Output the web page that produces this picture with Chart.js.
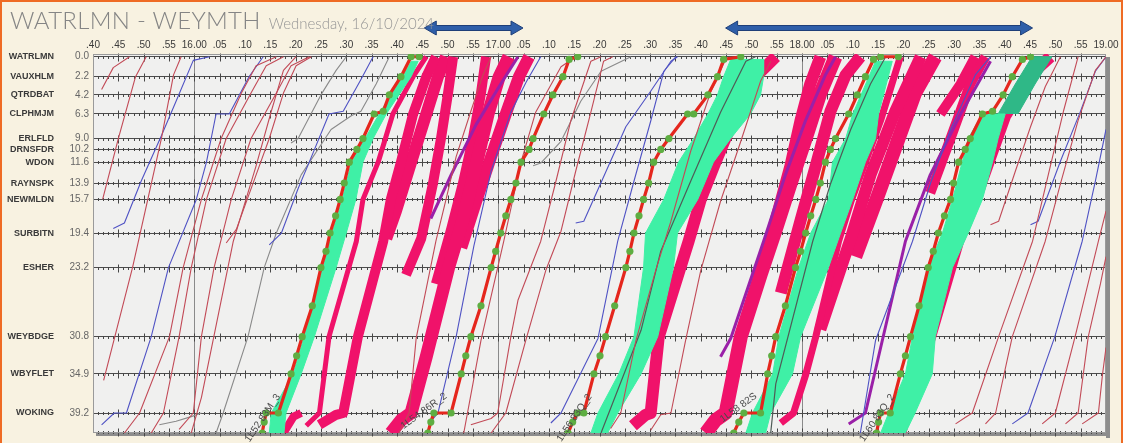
<!DOCTYPE html>
<html>
<head>
<meta charset="utf-8">
<script src="https://cdn.jsdelivr.net/npm/chart.js@4.4.1/dist/chart.umd.min.js"></script>
<style>
  html, body { margin: 0; padding: 0; background: #f8f2e1; }
  #wrap { position: relative; width: 1123px; height: 443px; overflow: hidden; background: #f8f2e1; }
  #frame { position: absolute; left: 0; top: 0; width: 1123px; height: 443px; box-sizing: border-box;
           border-top: 2px solid #ef6b24; border-left: 2px solid #ef6b24; border-right: 2px solid #ef6b24; pointer-events: none; }
  #title { position: absolute; left: 10px; top: 5px; font-family: Lato, "Open Sans", sans-serif; font-weight: 300; color: #858585; white-space: nowrap; }
  #title .big { font-size: 24px; letter-spacing: 0.3px; }
  #title .small { font-size: 15px; margin-left: 8px; color: #969696; }
  #chartBox { position: absolute; left: 0; top: 0; width: 1123px; height: 443px; }
</style>
</head>
<body>
<div id="wrap">
  <div id="chartBox"><canvas id="grafico"></canvas></div>
  <div id="title"><span class="big">WATRLMN - WEYMTH</span><span class="small">Wednesday, 16/10/2024</span></div>
  <div id="frame"></div>
</div>
<script>
// stations (miles from Waterloo)
const stationNames = ['WATRLMN', 'VAUXHLM', 'QTRDBAT', 'CLPHMJM', 'ERLFLD', 'DRNSFDR', 'WDON',
                      'RAYNSPK', 'NEWMLDN', 'SURBITN', 'ESHER', 'WEYBDGE', 'WBYFLET', 'WOKING'];
const stationMiles = [0.0, 2.2, 4.2, 6.3, 9.0, 10.2, 11.6, 13.9, 15.7, 19.4, 23.2, 30.8, 34.9, 39.2];

// time axis: minutes after 15:00
const timeMin = 40;   // 15.40
const timeMax = 240;  // 19.00

// highlighted trains (red with green timing dots) : [minute, miles]
const trainIds = ['1L52 83M_3', '1L54 86R_2', '1L56 83Q_2', '1L58 82S', '1L60 83Q_2'];
const trainLabelAngles = [-56, -36, -56, -36, -56];
const trainPaths = [
  [[73.4,41.4],[73.8,40.2],[74.2,39.2],[76.6,39.2],[79.1,34.9],[80.2,32.9],[81.3,30.8],[83.3,27.4],[85.0,23.2],[86.0,21.4],[86.8,19.4],[87.9,17.5],[88.8,15.7],[89.6,13.9],[90.6,11.6],[92.1,10.2],[93.3,9.0],[95.5,6.3],[97.3,6.0],[98.5,4.2],[100.8,2.2],[102.8,0],[104.4,0]],
  [[106.1,41.4],[106.7,40.2],[107.3,39.2],[110.7,39.2],[112.7,34.9],[113.6,32.9],[114.6,30.8],[116.6,27.4],[118.6,23.2],[119.5,21.4],[120.5,19.4],[121.5,17.5],[122.5,15.7],[123.5,13.9],[124.5,11.6],[126.1,10.2],[126.9,9.0],[129.0,6.3],[130.8,4.2],[132.8,2.2],[134.0,0.3],[135.7,0]],
  [[133.8,41.4],[134.7,40.2],[135.7,39.2],[136.9,39.2],[138.9,34.9],[140.1,32.9],[141.2,30.8],[143.0,27.4],[145.2,23.2],[146.0,21.4],[146.8,19.4],[147.8,17.5],[148.7,15.7],[149.7,13.9],[150.7,11.6],[152.1,10.2],[153.7,9.0],[157.4,6.3],[158.6,6.3],[161.4,4.2],[163.3,2.2],[164.5,0.3],[167.9,0]],
  [[166.5,41.4],[167.5,40.2],[168.5,39.2],[171.8,39.2],[173.2,34.9],[174.0,32.9],[174.8,30.8],[176.7,27.4],[178.7,23.2],[179.7,21.4],[180.7,19.4],[181.7,17.5],[182.7,15.7],[183.6,13.9],[184.6,11.6],[185.6,10.2],[186.6,9.0],[189.2,6.3],[190.9,4.2],[192.5,2.2],[194.1,0.3],[195.5,0],[199.0,0]],
  [[194.7,41.4],[195.1,40.2],[195.5,39.2],[197.4,39.2],[199.4,34.9],[200.4,32.9],[201.4,30.8],[203.1,27.4],[204.9,23.2],[205.9,21.4],[206.9,19.4],[208.1,17.5],[209.3,15.7],[209.9,13.9],[210.9,11.6],[212.2,10.2],[213.2,9.0],[215.6,6.3],[217.6,6.0],[219.7,4.2],[221.5,2.2],[223.5,0.3],[225.1,0]]
];

// ordinary paths
const redLines = [
  [[41.7,3.6],[44.0,1.2],[47.2,0]],
  [[41.9,15.7],[45.0,9],[48.4,2.2],[50.5,0]],
  [[42.1,35.6],[47.8,23.2],[53.5,9],[55.9,2],[57.4,0]],
  [[46.2,41.4],[49.2,39.2],[55.1,30.8],[57.8,23.2],[61.4,15.7],[65.3,9],[69.3,4],[72.2,1],[76.2,0]],
  [[51.5,41.4],[53.9,39.2],[57.0,30.8],[59.4,23.2],[62.4,15.7],[66.3,9],[71.2,4],[74.2,1],[77.6,0]],
  [[57.0,41.0],[59.8,39.2],[61.4,30.8],[63.9,23.2],[67.3,15.7],[71.2,9],[76.2,4],[79.1,1],[82.7,0]],
  [[66.3,20.5],[68.3,19.0],[72.2,13],[74.8,9],[77.6,4],[80.1,1],[83.1,0]],
  [[59.4,41.4],[61.4,37.5],[67.7,20.3],[72.2,12],[75.2,6],[77.6,1.5],[80.1,0]],
  [[100.4,41.4],[102.4,39.2],[103.8,31],[107.7,20.3],[109.7,15.7],[111.7,11],[114.6,6],[117.0,2],[118.6,0]],
  [[113.2,41.4],[116.6,31.2],[121.1,20.3],[124.5,11.6],[127.4,6.1],[132.4,1.1],[135.3,0]],
  [[114.6,40.5],[118.6,39.8],[119.9,39.2],[122.5,30.8],[123.9,26.8],[128.4,20.3],[131.4,13.7],[134.3,7.1],[138.3,0.5],[140.3,0]],
  [[118.6,41.4],[121.5,39.2],[125.5,31.1],[129.4,23.5],[132.4,19.2],[135.3,12.6],[138.3,6.1],[140.8,0.5],[142.6,0]],
  [[142.2,40.9],[144.2,39.2],[147.2,31.2],[151.1,23.5],[154.1,18.1],[158.0,10.4],[162.0,3.8],[164.9,0.3]],
  [[150.1,41.1],[152.1,39.4],[154.1,39.2],[157.0,31.2],[160.0,23.5],[163.9,15.9],[167.9,9.3],[171.8,2.7],[173.8,0.5]],
  [[210.3,40.4],[212.2,39.7],[213.6,39.2],[218.8,30.8],[225.5,20.3],[228.6,13],[231.6,6],[234.5,0]],
  [[217.2,18.5],[218.8,18.1],[222.1,12.6],[225.1,7.7],[228.0,3.3],[231.0,0]],
  [[216.2,40.4],[218.2,39.2],[221.5,30.8],[228.0,20.3],[231.0,14],[234.5,7],[237.9,1.5],[240,0]],
  [[227.4,40.4],[230.0,39.2],[233.9,30.8],[238.5,20.3],[240.0,17]],
  [[232.0,40.4],[234.5,39.2],[236.5,30.8],[238.9,25],[240.0,22]],
  [[235.3,40.4],[238.5,39.2],[239.3,35],[240.0,32]]
];
const blueLines = [
  [[41.7,40.5],[44.2,39.2],[46.6,39.2],[51.5,30.8],[54.9,23.2],[60.4,15.7],[62.4,11.6],[64.3,6.3],[66.9,6.3],[70.8,2.2],[73.6,0]],
  [[44.0,18.9],[46.2,18.3],[49.5,13.7],[53.5,8.7],[56.4,4.9],[59.8,0.4],[63.0,0]],
  [[74.8,20.7],[77.2,19.4],[80.5,14.5],[82.7,11.6],[86.6,6.3],[89.4,6.0],[92.9,2.5],[95.3,0]],
  [[106.3,40.4],[108.1,39.2],[111.7,30.8],[115.2,20.8],[118.6,12.6],[122.5,6.1],[125.5,2.8],[128.4,0]],
  [[130.4,40.3],[132.4,39.2],[139.7,31.0],[143.6,20.3],[146.8,13.7],[150.1,7.1],[152.7,1.6],[155.1,0]],
  [[135.3,18.3],[136.9,18.1],[141.3,12.6],[145.2,7.7],[150.1,3.8],[154.1,0.5],[155.4,0]],
  [[191.5,41.4],[194.5,31.2],[201.8,20.3],[205.3,14],[209.3,8],[214.2,2],[217.2,0]],
  [[221.5,40.4],[224.6,39.2],[229.9,30.8],[235.3,20.3],[237.9,13.7],[240.0,8]],
  [[225.1,18.5],[226.6,18.1],[231.0,11.5],[234.9,6.1],[237.9,1.6],[240.0,0]]
];
const greyLines = [
  [[53.1,40.5],[56.4,40.1],[59.4,39.6],[61.4,39.2]],
  [[64.3,41.4],[65.7,39.2],[70.6,30.8],[73.8,23.2],[76.2,19.4],[81.1,13],[87.0,8],[91.0,6.5],[92.9,6.0],[95.9,3],[98.5,0]],
  [[79.1,9.5],[80.5,9.0],[85.0,4.2],[88.0,1.5],[90.0,0]],
  [[126.9,12.0],[128.4,11.7],[132.4,9.3],[136.3,4.9],[140.3,1.6],[146.2,0]]
];
const darkLines = [
  [[140.3,41.4],[148.2,30.1],[152.1,21.4],[158.0,13.7],[163.9,6.1],[168.9,0.5],[170.8,0]],
  [[173.8,41.4],[174.8,36],[182.1,20.3],[185.6,14],[189.6,8],[193.5,3],[196.5,0]]
];

// delay bands (pink) and their drawn widths
const pinkPaths = [
  [[82.1,40.6],[84.7,39.2],[86.6,30.8],[92.0,20.3],[93.3,15.7],[96.3,11.6],[99.2,6.3],[103.2,2.2],[105.8,0]],
  [[84.7,40.5],[88.0,39.4],[89.4,39.2],[92.3,30.8],[97.3,20.3],[98.8,15.7],[100.8,11.6],[103.2,6.3],[105.8,2.2],[107.7,0]],
  [[98.8,41.4],[100.8,40],[102.8,39.2],[105.8,33],[110.3,23],[113.0,18],[115.6,12],[118.0,6.3],[120.2,2.2],[122.1,0]],
  [[101.8,24],[104.8,20],[107.1,14],[108.7,9],[110.1,4],[111.1,0]],
  [[97.9,20],[99.8,17],[102.8,11.6],[105.8,6.3],[108.1,2.2],[109.7,0]],
  [[112.7,21],[115.6,16],[118.6,11],[121.5,6.3],[124.1,2.2],[126.1,0]],
  [[107.7,25],[110.7,19],[113.0,14],[115.0,9],[116.6,4],[117.6,0]],
  [[77.6,41.4],[79.6,39.6],[81.1,39.2]],
  [[146.6,40.6],[149.1,39.4],[150.1,39.2],[151.7,30.8],[157.6,20.3],[160.0,15.7],[162.9,11.6],[166.9,6.3],[170.8,2.2],[174.8,0]],
  [[161.0,41.4],[162.9,40],[164.9,39.2],[167.9,30.8],[171.8,24],[174.8,19],[177.7,14],[180.7,9],[183.6,4],[186.6,0]],
  [[175.8,40.3],[178.3,39.2],[180.7,35],[182.7,30.8],[187.2,20.3],[189.6,16],[195.5,7],[199.4,0]],
  [[183.6,30],[189.6,20],[193.5,13],[198.4,6],[203.4,0]],
  [[190.5,22],[194.5,16],[198.4,10],[202.3,4],[206.3,0]],
  [[199.4,41.4],[200.4,39.2],[205.3,30.8],[210.8,20.3],[214.2,15.7],[217.2,11],[220.1,6.5],[225.1,2],[229.0,0]],
  [[205.3,15],[209.3,9],[213.2,3],[216.2,0]],
  [[175.8,26],[179.7,18],[182.7,12],[185.6,6],[188.6,2],[191.5,0]],
  [[173.8,20],[177.7,12],[179.7,7],[181.6,3],[183.6,0]],
  [[207.3,6.3],[211.3,3],[214.2,0]]
];
const pinkWidths = [5, 10, 13, 10, 12, 12, 10, 8, 12, 14, 7, 12, 14, 12, 10, 12, 12, 10];

const purplePaths = [
  [[106.7,17.8],[110.7,13],[115.6,7.5],[120.5,3],[123.9,0]],
  [[189.2,40.4],[192.5,39.2],[200.4,20.3],[205.3,13],[211.3,6.3],[217.2,0.5]],
  [[163.9,33],[165.9,31],[172.4,20.3],[176.7,13],[180.7,7],[184.6,2],[186.6,0]]
];

// recovery bands (green): early edge and late edge at the listed miles
const greenMiles = [
  [41.4, 39.2, 34.9, 30.8, 23.2, 19.4, 15.7, 11.6, 9.0, 6.3, 4.2, 2.2, 0.5],
  [41.4, 39.2, 34.9, 30.8, 23.2, 19.4, 15.7, 11.6, 9.0, 6.3, 4.2, 2.2, 0.3],
  [41.4, 39.2, 34.9, 30.8, 23.2, 19.4, 15.7, 11.6, 9.0, 6.3, 0.5],
  [41.4, 39.2, 34.9, 30.8, 23.2, 19.4, 15.7, 11.6, 9.0, 6.3],
  [6.3, 3.0, 0]
];
const greenEarly = [
  [74.8, 75.2, 79.5, 81.7, 85.4, 87.2, 89.2, 91.0, 93.7, 96.5, 98.8, 101.2, 102.8],
  [138.3, 139.7, 143.8, 146.8, 148.7, 149.1, 152.7, 155.6, 158.6, 161.4, 163.3, 164.5, 165.9],
  [168.9, 170.2, 174.2, 175.4, 179.3, 181.7, 185.2, 186.0, 188.6, 190.0, 194.5],
  [195.5, 197.1, 200.4, 201.8, 204.9, 207.7, 209.7, 211.6, 212.8, 215.6],
  [218.7, 222.1, 225.4]
];
const greenLate = [
  [77.7, 78.1, 81.1, 83.7, 88.0, 90.0, 91.9, 93.3, 95.3, 97.9, 100.4, 102.8, 104.2],
  [141.6, 143.6, 148.2, 151.5, 154.6, 155.4, 159.4, 162.5, 165.9, 169.8, 171.8, 172.4, 172.4],
  [172.8, 173.8, 178.1, 179.7, 185.2, 187.6, 190.0, 192.5, 194.5, 195.1, 197.8],
  [200.4, 202.3, 205.7, 206.3, 209.7, 212.8, 215.6, 217.6, 218.7, 220.1],
  [222.6, 226.0, 229.3]
];
const greenColors = ['#3ff0a6', '#3ff0a6', '#3ff0a6', '#3ff0a6', '#2fb887'];

// blue annotation arrows above the graph [from, to] in minutes
const arrowSpans = [[105.4, 124.9], [164.9, 225.5]];

const pts = p => p.map(([x, y]) => ({x, y}));

const datasets = [];
trainPaths.forEach((p, i) => datasets.push({
  label: trainIds[i], data: pts(p), order: 0,
  borderColor: '#e5261d', borderWidth: 3.2,
  pointRadius: 3.6, pointBackgroundColor: '#5eae42', pointBorderWidth: 0
}));
const thin = (list, color, w) => list.forEach(p => datasets.push({
  data: pts(p), order: 1, borderColor: color, borderWidth: w, pointRadius: 0
}));
thin(redLines, '#c24a57', 1.1);
thin(blueLines, '#4f52c4', 1.1);
thin(greyLines, '#8a8a8a', 1.1);
thin(darkLines, '#4f5c57', 1.2);
purplePaths.forEach(p => datasets.push({
  data: pts(p), order: 2, borderColor: '#9a20a8', borderWidth: 3, pointRadius: 0
}));
greenMiles.forEach((miles, i) => {
  const early = miles.map((d, k) => ({x: greenEarly[i][k], y: d}));
  const late = miles.map((d, k) => ({x: greenLate[i][k], y: d})).reverse();
  datasets.push({
    data: early.concat(late), order: 3, fill: 'shape',
    backgroundColor: greenColors[i], borderColor: greenColors[i], borderWidth: 1, pointRadius: 0
  });
});
pinkPaths.forEach((p, i) => datasets.push({
  data: pts(p), order: 4, borderColor: '#f0126a', borderWidth: pinkWidths[i], pointRadius: 0
}));

const graphPlugin = {
  id: 'graphPlugin',
  beforeDraw(chart) {
    const {ctx, chartArea: a} = chart;
    ctx.save();
    ctx.fillStyle = '#8d8d8d';
    ctx.fillRect(a.right, a.top + 3, 4, a.bottom - a.top + 2);
    ctx.fillRect(a.left + 3, a.bottom, a.right - a.left, 3);
    ctx.fillStyle = '#f0f0ef';
    ctx.fillRect(a.left, a.top, a.right - a.left, a.bottom - a.top);
    ctx.restore();
  },
  beforeDatasetsDraw(chart) {
    const {ctx, chartArea: a, scales: {x, y}} = chart;
    ctx.save();
    ctx.strokeStyle = '#474747';
    ctx.lineWidth = 1;
    const rows = stationMiles.map(v => Math.round(y.getPixelForValue(v)) + 0.5);
    rows.push(Math.round(a.bottom) - 0.5);
    ctx.beginPath();
    ctx.moveTo(a.left, rows[rows.length - 1]);
    ctx.lineTo(a.right, rows[rows.length - 1]);
    for (const py of rows) {
      for (let m = timeMin + 1; m < timeMax; m++) {
        const px = Math.round(x.getPixelForValue(m)) + 0.5;
        const h = m % 5 === 0 ? 4 : 1.5;
        ctx.moveTo(px, py - h);
        ctx.lineTo(px, py + h);
      }
    }
    ctx.stroke();
    ctx.strokeStyle = '#9a9a9a';
    ctx.strokeRect(a.left + 0.5, a.top + 0.5, a.right - a.left - 1, a.bottom - a.top - 1);
    ctx.restore();
  },
  afterDatasetsDraw(chart) {
    const {ctx, scales: {x, y}} = chart;
    ctx.save();
    ctx.font = '10px "Liberation Sans", Arial, sans-serif';
    ctx.fillStyle = '#4a4a4a';
    ctx.textAlign = 'right';
    ctx.textBaseline = 'middle';
    trainPaths.forEach((p, i) => {
      const px = x.getPixelForValue(p[2][0]) + 12;
      const py = y.getPixelForValue(p[2][1]) - 18;
      ctx.save();
      ctx.translate(px, py);
      ctx.rotate(trainLabelAngles[i] * Math.PI / 180);
      ctx.fillText(trainIds[i], 0, 0);
      ctx.restore();
    });
    ctx.restore();
  },
  afterDraw(chart) {
    const {ctx, scales: {x}} = chart;
    ctx.save();
    ctx.fillStyle = '#2f5fa9';
    ctx.strokeStyle = '#1f3f78';
    ctx.lineWidth = 1;
    const yc = 28, head = 12, hh = 7, sh = 2.5;
    arrowSpans.forEach(([m1, m2]) => {
      const x1 = x.getPixelForValue(m1), x2 = x.getPixelForValue(m2);
      ctx.beginPath();
      ctx.moveTo(x1, yc);
      ctx.lineTo(x1 + head, yc - hh);
      ctx.lineTo(x1 + head, yc - sh);
      ctx.lineTo(x2 - head, yc - sh);
      ctx.lineTo(x2 - head, yc - hh);
      ctx.lineTo(x2, yc);
      ctx.lineTo(x2 - head, yc + hh);
      ctx.lineTo(x2 - head, yc + sh);
      ctx.lineTo(x1 + head, yc + sh);
      ctx.lineTo(x1 + head, yc + hh);
      ctx.closePath();
      ctx.fill();
      ctx.stroke();
    });
    ctx.restore();
  }
};

const stationTicks = s => { s.ticks = stationMiles.map(v => ({value: v})); };

const ctxGrafico = document.getElementById('grafico').getContext('2d');
const grafico = new Chart(ctxGrafico, {
  type: 'line',
  data: {datasets},
  plugins: [graphPlugin],
  options: {
    responsive: true,
    maintainAspectRatio: false,
    animation: false,
    events: [],
    layout: {padding: {top: 36, right: 17, bottom: 10, left: 0}},
    elements: {line: {tension: 0, borderJoinStyle: 'round', borderCapStyle: 'butt'}, point: {radius: 0}},
    plugins: {legend: {display: false}, tooltip: {enabled: false}},
    scales: {
      x: {
        type: 'linear', position: 'top', min: timeMin, max: timeMax,
        border: {display: false},
        grid: {
          drawTicks: false, lineWidth: 1,
          color: c => (c.tick && c.tick.value % 60 === 0 && c.tick.value > timeMin && c.tick.value < timeMax) ? '#8a8a8a' : 'rgba(0,0,0,0)'
        },
        ticks: {
          stepSize: 5, autoSkip: false, maxRotation: 0, padding: 3,
          color: '#3a3a3a', font: {size: 10, family: '"Liberation Sans", Arial, sans-serif'},
          callback: v => v % 60 === 0 ? (15 + v / 60) + '.00' : '.' + String(v % 60).padStart(2, '0')
        }
      },
      y: {
        type: 'linear', position: 'left', reverse: true, min: -0.3, max: 41.4, weight: 0,
        afterBuildTicks: stationTicks,
        afterFit: s => { s.width = 35; },
        border: {display: false},
        grid: {color: '#4c4c4c', lineWidth: 1, drawTicks: false},
        ticks: {padding: 4, color: '#666', font: {size: 10, family: '"Liberation Sans", Arial, sans-serif'},
                callback: v => v.toFixed(1)}
      },
      yName: {
        type: 'linear', position: 'left', reverse: true, min: -0.3, max: 41.4, weight: 1,
        afterBuildTicks: stationTicks,
        afterFit: s => { s.width = 58; },
        border: {display: false},
        grid: {display: false, drawTicks: false},
        ticks: {padding: 4, color: '#3a3a3a', font: {size: 9, weight: 'bold', family: '"Liberation Sans", Arial, sans-serif'},
                callback: (v, i) => stationNames[i]}
      }
    }
  }
});
</script>
</body>
</html>
